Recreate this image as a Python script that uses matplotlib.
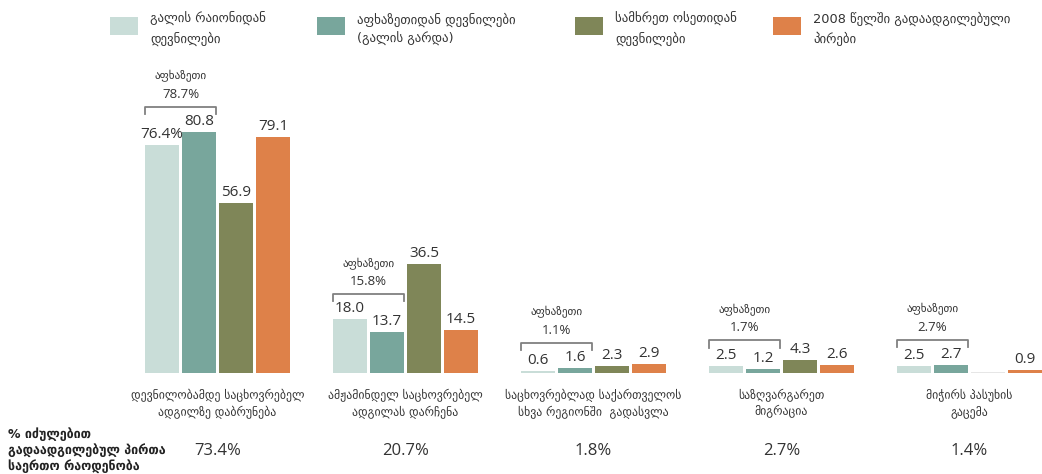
import matplotlib.pyplot as plt
from matplotlib.patches import Rectangle
import numpy as np

categories = ['დევნილობამდე საცხოვრებელ\nადგილზე დაბრუნება',
              'ამჟამინდელ საცხოვრებელ\nადგილას დარჩენა',
              'საცხოვრებლად საქართველოს\nსხვა რეგიონში  გადასვლა',
              'საზღვარგარეთ\nმიგრაცია',
              'მიჭირს პასუხის\nგაცემა']
series_names = ['გალის რაიონიდან\nდევნილები',
                'აფხაზეთიდან დევნილები\n(გალის გარდა)',
                'სამხრეთ ოსეთიდან\nდევნილები',
                '2008 წელში გადაადგილებული\nპირები']
gali = [76.4, 18.0, 0.6, 2.5, 2.5]
abkh_other = [80.8, 13.7, 1.6, 1.2, 2.7]
south_ossetia = [56.9, 36.5, 2.3, 4.3, None]
idp_2008 = [79.1, 14.5, 2.9, 2.6, 0.9]
abkhazia_total = [78.7, 15.8, 1.1, 1.7, 2.7]
share_total = [73.4, 20.7, 1.8, 2.7, 1.4]
row_label = '% იძულებით\nგადაადგილებულ პირთა\nსაერთო რაოდენობა'

colors = ['#c9ddd8', '#78a69c', '#7f8658', '#de8149']
num_font = ['Open Sans', 'DejaVu Sans']
geo_font = ['DejaVu Sans']
txt_col = '#333333'

W, H = 1042, 474
fig = plt.figure(figsize=(W / 100, H / 100), dpi=100)
ax = fig.add_axes([0, 0, 1, 1])
ax.set_xlim(-217.5 / 188, (W - 217.5) / 188)
ax.set_ylim(-101 / 2.98, 373 / 2.98)
ax.axis('off')

x = np.arange(len(categories))
width = 34 / 188
step = 37 / 188
series = [gali, abkh_other, south_ossetia, idp_2008]

for i, (vals, col) in enumerate(zip(series, colors)):
    pos = x + (i - 1.5) * step
    h = [v if v is not None else 0 for v in vals]
    ax.bar(pos, h, width=width, color=col)
    for j, (p, v) in enumerate(zip(pos, vals)):
        if v is None:
            ax.bar(p, 0.3, width=width, color='#e6e6e6')
            continue
        lab = '%.1f%%' % v if (i == 0 and j == 0) else '%.1f' % v
        ax.text(p, v + 1.0, lab, ha='center', va='bottom', fontsize=11,
                family=num_font, color=txt_col)

# brackets over the two abkhazia series
for j in range(len(categories)):
    left = x[j] - 1.5 * step - width / 2
    right = x[j] - 0.5 * step + width / 2
    top = max(gali[j], abkh_other[j]) + 8.5
    ax.plot([left, left, right, right], [top - 2.5, top, top, top - 2.5],
            color='#808080', lw=1.3)
    ax.text((left + right) / 2, top + 2, '%.1f%%' % abkhazia_total[j],
            ha='center', va='bottom', fontsize=9.5, family=num_font, color=txt_col)
    ax.text((left + right) / 2, top + 8.2, 'აფხაზეთი',
            ha='center', va='bottom', fontsize=8, family=geo_font, color=txt_col)

for j, cat in enumerate(categories):
    ax.text(x[j], -5.3, cat, ha='center', va='top', fontsize=8.5,
            family=geo_font, color=txt_col, linespacing=1.35)
    ax.text(x[j], -26.3, '%.1f%%' % share_total[j], ha='center', va='center',
            fontsize=12, family=num_font, color=txt_col)

fig.text(8 / W, 0.05, row_label, ha='left', va='center', fontsize=9,
         family=geo_font, fontweight='bold', color='#222222', linespacing=1.2)

# legend
leg_x = [110, 317, 575, 773]
for lx, name, col in zip(leg_x, series_names, colors):
    fig.add_artist(Rectangle((lx / W, 1 - 35 / H), 28 / W, 18 / H,
                             transform=fig.transFigure, color=col, lw=0))
    fig.text((lx + 40) / W, 1 - 29 / H, name, ha='left', va='center',
             fontsize=9.3, family=geo_font + ['Open Sans'], color=txt_col,
             linespacing=1.45)

fig.savefig('out.png', dpi=100)
